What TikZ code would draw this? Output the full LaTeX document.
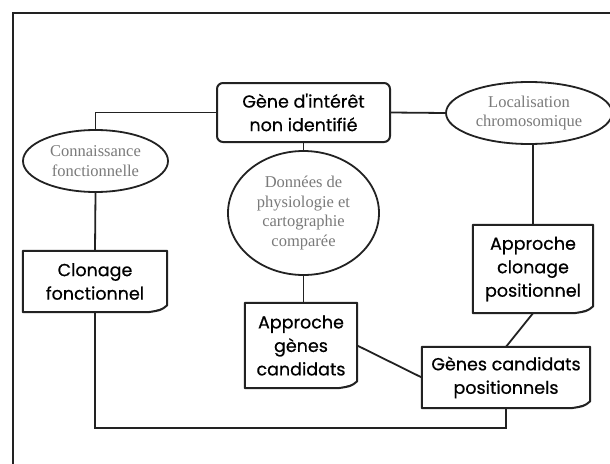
\documentclass[tikz,border=0pt]{standalone}
\usepackage{fontspec}
\setmainfont{Liberation Serif}
\newfontfamily\comicfont[FakeBold=0.6]{Poppins}
\usetikzlibrary{shapes.geometric,calc}
\definecolor{linegray}{HTML}{222222}
\definecolor{ovaltext}{HTML}{7A7A7A}
\newcommand\foldbox[1]{%
  \draw[boxline] (#1.north west) -- (#1.north east) -- ([yshift=7pt]#1.south east)
     .. controls ([xshift=-6pt,yshift=2pt]#1.south east) .. ([xshift=-19pt]#1.south east)
     -- (#1.south west) -- cycle;
  \fill[linegray] ([yshift=7pt]#1.south east)
     .. controls ([xshift=-6pt,yshift=2pt]#1.south east) .. ([xshift=-19pt]#1.south east)
     -- ([xshift=-5pt,yshift=4pt]#1.south east) -- cycle;
}
\begin{document}
\begin{tikzpicture}[x=1pt,y=-1pt,
  boxline/.style={draw=linegray,line width=2pt,line join=round},
  conn/.style={draw=linegray,line width=1.8pt},
  notebox/.style={inner sep=0pt,font=\comicfont\fontsize{17.5}{23.5}\selectfont,align=center,text=black},
  startbox/.style={draw=linegray,line width=2pt,rounded corners=6pt,inner sep=0pt,
     font=\comicfont\fontsize{17.5}{23.5}\selectfont,align=center},
  oval/.style={ellipse,draw=linegray,line width=1.8pt,inner sep=0pt,
     font=\fontsize{16.5}{19.5}\selectfont,text=ovaltext,align=center}]
\useasboundingbox (0,0) rectangle (610,463);
\fill[white] (0,0) rectangle (610,463);
\draw[draw=linegray,line width=2.4pt] (13,470) -- (13,13) -- (620,13);

\node[startbox,minimum width=173pt,minimum height=59pt] (gene) at (303.5,112.5) {Gène d'intérêt\\non identifié};
\node[oval,minimum width=166pt,minimum height=62pt] (loc) at (529,113) {Localisation\\chromosomique};
\node[oval,minimum width=145pt,minimum height=62pt] (conn) at (95.5,161) {Connaissance\\fonctionnelle};
\node[oval,minimum width=151pt,minimum height=124pt] (don) at (303.5,213) {Données de\\physiologie et\\cartographie\\comparée};

\node[notebox,minimum width=144pt,minimum height=61pt] (clon) at (95,281.5) {Clonage\\fonctionnel};
\node[notebox,minimum width=112pt,minimum height=85pt] (apg) at (301,345.5) {Approche\\gènes\\candidats};
\node[notebox,minimum width=120pt,minimum height=88pt] (acp) at (533,269) {Approche\\clonage\\positionnel};
\node[notebox,minimum width=168pt,minimum height=61pt] (gcp) at (506,377.5) {Gènes candidats\\positionnels};
\foldbox{clon}
\foldbox{apg}
\foldbox{acp}
\foldbox{gcp}

\coordinate (loopy) at (0,428);
\draw[conn] (gene.west) -| (conn.north);
\draw[conn] (gene.east) -- (loc.west);
\draw[conn] (gene.south) -- (don.north);
\draw[conn] (conn.south) -- (clon.north);
\draw[conn] (don.south) -- (don.south |- apg.north);
\draw[conn] (acp.north |- loc.south) -- (acp.north);
\draw[conn] (acp.south) -- (gcp.north);
\draw[conn] (apg.east) -- (gcp.west);
\draw[conn] (clon.south) -- (clon.south |- loopy) -| (gcp.south);
\end{tikzpicture}
\end{document}
